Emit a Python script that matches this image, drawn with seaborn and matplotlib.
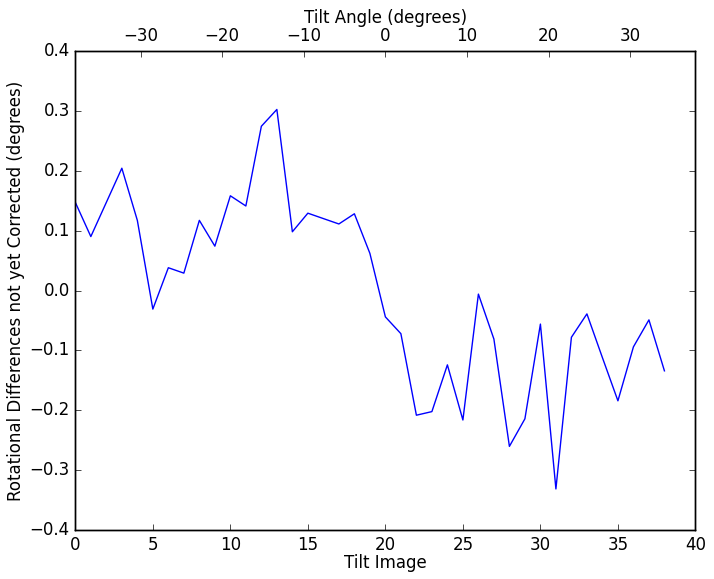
import matplotlib
matplotlib.use("Agg")
import matplotlib.pyplot as plt
import seaborn as sns

# values
tilt_image = list(range(39))
rot_diff = [0.147, 0.090, 0.147, 0.204, 0.117, -0.031, 0.038, 0.029, 0.117, 0.074,
            0.158, 0.141, 0.274, 0.302, 0.098, 0.129, 0.120, 0.111, 0.128, 0.062,
            -0.044, -0.072, -0.208, -0.202, -0.124, -0.216, -0.006, -0.081, -0.260, -0.214,
            -0.056, -0.331, -0.078, -0.039, -0.112, -0.184, -0.094, -0.049, -0.134]
angle_limits = (-38, 38)

plt.style.use("classic")
fig, ax = plt.subplots(figsize=(7.14, 5.79), dpi=100)
fig.patch.set_facecolor("white")
fig.subplots_adjust(left=0.1055, right=0.974, bottom=0.0841, top=0.9124)

sns.lineplot(x=tilt_image, y=rot_diff, color="b", linewidth=1, ax=ax)
ax.set_xlim(0, 40)
ax.set_ylim(-0.4, 0.4)
ax.set_xlabel("Tilt Image", labelpad=0)
ax.set_ylabel("Rotational Differences not yet Corrected (degrees)", labelpad=3)

ax2 = ax.twiny()
ax2.set_xlim(*angle_limits)
ax2.set_xlabel("Tilt Angle (degrees)", labelpad=3)

fig.savefig("out.png", facecolor="white")
